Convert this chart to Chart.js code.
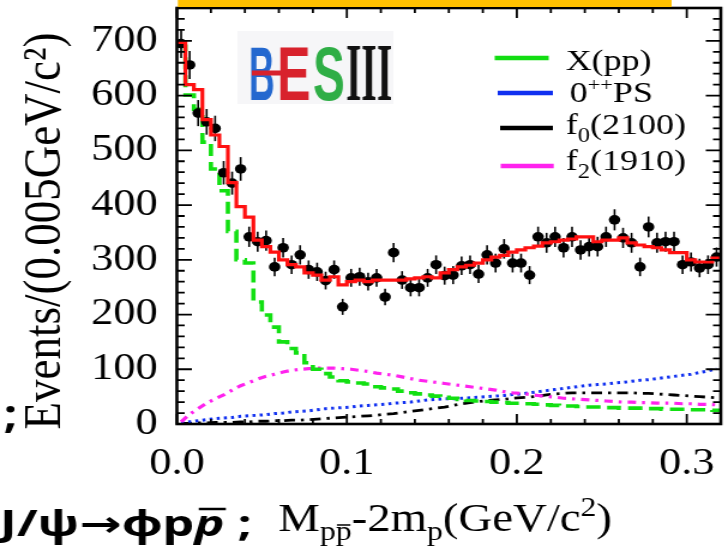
<!DOCTYPE html>
<html>
<head>
<meta charset="utf-8">
<title>M(pp̄)-2m(p) threshold</title>
<script src="https://cdn.jsdelivr.net/npm/chart.js@4.4.1/dist/chart.umd.min.js"></script>
<style>
  html, body { margin: 0; padding: 0; background: #fff; overflow: hidden; }
  /* the figure is laid out narrow and stretched sideways, like the slide it came from */
  #wrap { width: 607px; height: 549px; transform: scaleX(1.1993); transform-origin: 0 0; }
  #mpp { width: 607px; height: 549px; }
</style>
</head>
<body>
<div id="wrap"><canvas id="mpp" width="607" height="549"></canvas></div>
<script>
// bins of 0.005 GeV/c^2 starting at threshold
const binWidth = 0.005;

const dataCounts = [
  695, 656, 568, 552, 540, 459, 440, 466, 342, 333,
  335, 287, 322, 291, 309, 282, 278, 262, 282, 214,
  267, 269, 260, 267, 232, 313, 263, 249, 249, 267,
  291, 271, 272, 289, 291, 274, 309, 294, 320, 294,
  294, 272, 342, 331, 342, 322, 342, 318, 324, 324,
  342, 373, 340, 331, 287, 360, 331, 333, 333, 291,
  296, 285, 291, 305
];

// total fit
const fitTotal = [
  697, 620, 611, 556, 528, 507, 441, 397, 378, 336,
  324, 314, 300, 291, 287, 276, 272, 263, 269, 254,
  260, 263, 260, 263, 263, 263, 263, 265, 267, 269,
  267, 276, 282, 287, 290, 294, 300, 305, 308, 314,
  318, 322, 325, 331, 333, 336, 338, 342, 342, 333,
  336, 336, 340, 331, 327, 324, 322, 318, 313, 313,
  300, 296, 296, 303
];

// X(pp)
const fitXpp = [
  690, 601, 575, 515, 466, 426, 352, 300, 294, 223,
  199, 177, 150, 138, 130, 112, 100, 92, 86, 79,
  77, 75, 73, 68, 66, 64, 60, 57, 55, 53,
  51, 49, 47, 45, 43, 42, 41, 40, 39, 38,
  38, 37, 36, 35, 34, 33, 33, 32, 31, 31,
  30, 30, 29, 29, 29, 28, 28, 27, 27, 27,
  26, 26, 26, 25
];

// f2(1910)
const fitF2 = [
  4, 18, 28, 38, 46, 53, 62, 70, 76, 82,
  87, 91, 95, 98, 100, 101, 102, 102, 102, 101,
  100, 98, 96, 93, 91, 89, 86, 83, 80, 78,
  76, 74, 72, 70, 68, 66, 64, 62, 59, 57,
  56, 54, 52, 50, 49, 47, 46, 45, 44, 43,
  42, 41, 40, 40, 39, 39, 38, 38, 38, 37,
  37, 36, 36, 35
];

// 0++ phase space
const fitPS = [
  2, 4, 6, 8, 10, 11, 12, 14, 15, 16,
  17, 19, 20, 22, 23, 24, 26, 28, 29, 30,
  31, 33, 34, 35, 36, 38, 39, 40, 42, 44,
  45, 46, 46, 47, 48, 49, 50, 51, 52, 54,
  55, 57, 59, 61, 63, 65, 67, 69, 71, 72,
  73, 75, 76, 78, 80, 81, 83, 85, 87, 89,
  91, 94, 97, 101
];

// f0(2100)
const fitF0 = [
  1, 1, 2, 2, 3, 3, 3, 4, 4, 5,
  5, 6, 6, 7, 7, 8, 9, 10, 11, 12,
  13, 14, 15, 16, 18, 19, 21, 23, 25, 27,
  29, 31, 34, 37, 39, 41, 43, 44, 45, 47,
  48, 49, 51, 53, 55, 56, 57, 57, 57, 57,
  57, 57, 57, 57, 56, 56, 55, 54, 53, 52,
  51, 50, 49, 48
];

const xTicks = [0.0, 0.1, 0.2, 0.3];
const yTicks = [0, 100, 200, 300, 400, 500, 600, 700];

const SERIF = '"Liberation Serif", "DejaVu Serif", serif';
const SANS = '"Noto Sans", "DejaVu Sans", sans-serif';

// histogram as left-edge points + closing edge, drawn with step-before
function histPoints(vals) {
  const pts = vals.map((v, i) => ({ x: i * binWidth, y: v }));
  pts.push({ x: vals.length * binWidth, y: vals[vals.length - 1] });
  return pts;
}
function centerPoints(vals) {
  return vals.map((v, i) => ({ x: (i + 0.5) * binWidth, y: v }));
}

// draw a row of text pieces with sub/superscripts
function drawRuns(ctx, x, base, size, runs) {
  for (const r of runs) {
    const s = size * (r.scale || 1);
    ctx.font = (r.style || '') + ' ' + s + 'px ' + SERIF;
    const w = ctx.measureText(r.t).width;
    const yy = base + (r.dy || 0) * size;
    ctx.fillText(r.t, x, yy);
    if (r.bar) {
      ctx.save();
      ctx.lineWidth = 1.5;
      ctx.beginPath();
      ctx.moveTo(x + 1, yy - s * 0.55);
      ctx.lineTo(x + w - 1, yy - s * 0.55);
      ctx.stroke();
      ctx.restore();
    }
    x += w;
  }
  return x;
}

// squeeze a word into a box (logo letters)
function fitText(ctx, text, font, size, capRatio, left, right, top, bottom, color) {
  ctx.save();
  ctx.font = font;
  const w = ctx.measureText(text).width;
  ctx.translate(left, bottom);
  ctx.scale((right - left) / w, (bottom - top) / (capRatio * size));
  ctx.fillStyle = color;
  ctx.textBaseline = 'alphabetic';
  ctx.fillText(text, 0, 0);
  ctx.restore();
}

const errorBars = {
  id: 'errorBars',
  beforeDatasetDraw(chart, args) {
    if (args.index !== 0) return;
    const { ctx, scales: { y } } = chart;
    ctx.save();
    ctx.strokeStyle = '#000';
    ctx.lineWidth = 1.6;
    args.meta.data.forEach((pt, i) => {
      const v = dataCounts[i];
      const e = Math.sqrt(v);
      ctx.beginPath();
      ctx.moveTo(pt.x, y.getPixelForValue(v + e));
      ctx.lineTo(pt.x, y.getPixelForValue(v - e));
      ctx.stroke();
    });
    ctx.restore();
  }
};

const decorations = {
  id: 'decorations',
  beforeDatasetsDraw(chart) {
    const ctx = chart.ctx;
    // BESIII logo
    ctx.save();
    ctx.fillStyle = 'rgba(238,238,242,0.55)';
    ctx.fillRect(198, 31, 130, 73);
    const bold = 'bold 60px "Liberation Sans", Arial, sans-serif';
    fitText(ctx, 'B', bold, 60, 0.716, 207.5, 229, 46, 100, '#2468cf');
    fitText(ctx, 'E', bold, 60, 0.716, 231, 259, 46, 100, '#d8222c');
    fitText(ctx, 'S', bold, 60, 0.716, 261, 287.5, 46, 100, '#2fae46');
    fitText(ctx, 'III', 'bold 60px ' + SERIF, 60, 0.662, 288.5, 327, 46, 100, '#111');
    ctx.strokeStyle = '#d8222c';
    ctx.lineWidth = 5;
    ctx.beginPath();
    ctx.moveTo(210, 73);
    ctx.lineTo(254, 73);
    ctx.stroke();
    ctx.restore();
  },
  afterDatasetsDraw(chart) {
    const { ctx, chartArea: a, scales: { x, y } } = chart;
    ctx.save();
    ctx.strokeStyle = '#000';
    ctx.lineWidth = 1.8;
    ctx.beginPath();
    // inward ticks, y: minor every 20, major every 100
    for (let v = 0; v <= y.max; v += 20) {
      const py = y.getPixelForValue(v);
      const len = v % 100 === 0 ? 12.5 : 6.5;
      ctx.moveTo(a.left, py); ctx.lineTo(a.left + len, py);
      ctx.moveTo(a.right, py); ctx.lineTo(a.right - len, py);
    }
    // x: minor every 0.02, major every 0.1
    for (let k = 0; k <= 16; k++) {
      const px = x.getPixelForValue(k * 0.02);
      const len = k % 5 === 0 ? 10 : 5;
      ctx.moveTo(px, a.bottom); ctx.lineTo(px, a.bottom - len);
      ctx.moveTo(px, a.top); ctx.lineTo(px, a.top + len);
    }
    ctx.stroke();
    ctx.lineWidth = 2.6;
    ctx.strokeRect(a.left, a.top, a.right - a.left, a.bottom - a.top);
    ctx.restore();
  },
  afterDraw(chart) {
    const ctx = chart.ctx;
    ctx.save();
    // slide strip above the frame
    ctx.fillStyle = '#ffc000';
    ctx.fillRect(148.3, 0, 411.7, 7);

    ctx.fillStyle = '#000';
    ctx.strokeStyle = '#000';
    ctx.textBaseline = 'alphabetic';

    // y title
    ctx.save();
    ctx.translate(50, 231);
    ctx.rotate(-Math.PI / 2);
    ctx.font = '45px ' + SERIF;
    ctx.textAlign = 'center';
    ctx.fillText('Events/(0.005GeV/c²)', 0, 0);
    ctx.restore();

    // x title
    drawRuns(ctx, 232, 531, 39, [
      { t: 'M' },
      { t: 'p', scale: 0.68, dy: 0.22 },
      { t: 'p', scale: 0.68, dy: 0.22, bar: true },
      { t: '-2m' },
      { t: 'p', scale: 0.68, dy: 0.22 },
      { t: '(GeV/c' },
      { t: '2', scale: 0.68, dy: -0.38 },
      { t: ')' }
    ]);

    // legend
    const leg = [
      { color: '#12dd12', y: 58, base: 70, x0: 412.5, x1: 457.5, tx: 471.7,
        runs: [{ t: 'X(pp)' }] },
      { color: '#1030f0', y: 93, base: 102, x0: 415, x1: 461, tx: 475,
        runs: [{ t: '0' }, { t: '++', scale: 0.62, dy: -0.38 }, { t: 'PS' }] },
      { color: '#000000', y: 128, base: 134, x0: 417, x1: 461, tx: 471.7,
        runs: [{ t: 'f' }, { t: '0', scale: 0.68, dy: 0.25 }, { t: '(2100)' }] },
      { color: '#ff22ee', y: 166, base: 170, x0: 417.5, x1: 461.7, tx: 471.7,
        runs: [{ t: 'f' }, { t: '2', scale: 0.68, dy: 0.25 }, { t: '(1910)' }] }
    ];
    leg.forEach(l => {
      ctx.save();
      ctx.strokeStyle = l.color;
      ctx.lineWidth = 4.5;
      ctx.beginPath();
      ctx.moveTo(l.x0, l.y);
      ctx.lineTo(l.x1, l.y);
      ctx.stroke();
      ctx.restore();
      drawRuns(ctx, l.tx, l.base, 30, l.runs);
    });

    // slide text, widened to its slot
    ctx.font = 'bold 40px ' + SANS;
    ctx.fillText(';', 3, 428);
    ctx.save();
    ctx.font = 'bold 35px ' + SANS;
    const head = 'J/ψ→ϕp';
    let w = ctx.measureText(head).width + ctx.measureText(' ;').width;
    ctx.font = 'italic bold 35px ' + SANS;
    const pw = ctx.measureText('p').width;
    w += pw;
    ctx.scale(210 / w, 1);
    ctx.font = 'bold 35px ' + SANS;
    let tx = 0;
    ctx.fillText(head, tx, 536);
    tx += ctx.measureText(head).width;
    ctx.font = 'italic bold 35px ' + SANS;
    ctx.fillText('p', tx, 536);
    ctx.lineWidth = 2.5;
    ctx.beginPath();
    ctx.moveTo(tx + 3, 509);
    ctx.lineTo(tx + pw + 1, 509);
    ctx.stroke();
    tx += pw;
    ctx.font = 'bold 35px ' + SANS;
    ctx.fillText(' ;', tx, 536);
    ctx.restore();
    ctx.restore();
  }
};

new Chart(document.getElementById('mpp'), {
  type: 'line',
  data: {
    datasets: [
      {
        label: 'Data',
        data: centerPoints(dataCounts),
        showLine: false,
        pointRadius: 4.8,
        pointBackgroundColor: '#000',
        pointBorderWidth: 0,
        order: 1
      },
      {
        label: 'Total fit',
        data: histPoints(fitTotal),
        stepped: 'before',
        borderColor: '#ff1010',
        borderWidth: 3.2,
        pointRadius: 0,
        order: 0
      },
      {
        label: 'X(pp)',
        data: histPoints(fitXpp),
        stepped: 'before',
        borderColor: '#12e012',
        borderWidth: 3.6,
        borderDash: [12, 6],
        pointRadius: 0,
        order: 2
      },
      {
        label: 'f2(1910)',
        data: centerPoints(fitF2),
        borderColor: '#ff22ee',
        borderWidth: 3.2,
        borderDash: [7, 5, 2.5, 5],
        pointRadius: 0,
        order: 3
      },
      {
        label: '0++PS',
        data: centerPoints(fitPS),
        borderColor: '#1030f0',
        borderWidth: 3,
        borderDash: [2.5, 3.5],
        pointRadius: 0,
        order: 4
      },
      {
        label: 'f0(2100)',
        data: centerPoints(fitF0),
        borderColor: '#000',
        borderWidth: 2.8,
        borderDash: [9, 5, 2.5, 5],
        pointRadius: 0,
        order: 5
      }
    ]
  },
  options: {
    responsive: false,
    animation: false,
    devicePixelRatio: 1,
    layout: { padding: { left: 0, right: 6, top: 8, bottom: 0 } },
    plugins: { legend: { display: false }, tooltip: { enabled: false } },
    elements: { line: { tension: 0, fill: false } },
    scales: {
      x: {
        type: 'linear',
        min: 0,
        max: 0.32,
        afterFit(s) { s.height = 125; s.paddingLeft = 0; s.paddingRight = 0; },
        afterBuildTicks(s) { s.ticks = xTicks.map(v => ({ value: v })); },
        ticks: {
          callback: v => v.toFixed(1),
          font: { family: SERIF, size: 37 },
          color: '#000',
          padding: 18,
          maxRotation: 0,
          autoSkip: false
        },
        grid: { display: false, drawTicks: false },
        border: { display: false }
      },
      y: {
        type: 'linear',
        min: 0,
        max: 760,
        afterFit(s) { s.width = 147.5; s.paddingTop = 0; s.paddingBottom = 0; },
        afterBuildTicks(s) { s.ticks = yTicks.map(v => ({ value: v })); },
        ticks: {
          font: { family: SERIF, size: 37 },
          color: '#000',
          padding: 16
        },
        grid: { display: false, drawTicks: false },
        border: { display: false }
      }
    }
  },
  plugins: [errorBars, decorations]
});
</script>
</body>
</html>
